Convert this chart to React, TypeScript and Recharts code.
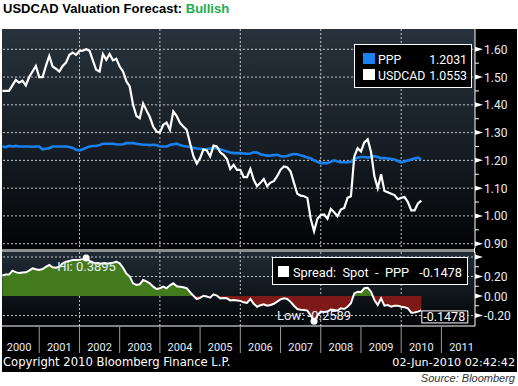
import React from 'react';
import {
  LineChart,
  Line,
  AreaChart,
  Area,
  XAxis,
  YAxis,
  CartesianGrid,
  Legend,
  ReferenceDot,
} from 'recharts';

// ---------------- data ----------------
const START_YEAR = 2000;
const FIRST_MONTH_OFFSET = 1; // first point: Feb 2000

const usdcad = [
  1.45, 1.45, 1.45, 1.47, 1.49, 1.48, 1.487, 1.47, 1.5, 1.52, 1.54, 1.5,
  1.5, 1.54, 1.576, 1.538, 1.53, 1.52, 1.54, 1.552, 1.58, 1.588, 1.58, 1.594,
  1.595, 1.6, 1.595, 1.56, 1.526, 1.52, 1.583, 1.562, 1.583, 1.56, 1.566, 1.538,
  1.52, 1.485, 1.466, 1.4, 1.36, 1.352, 1.405, 1.38, 1.356, 1.322, 1.304, 1.3,
  1.328, 1.336, 1.31, 1.376, 1.36, 1.335, 1.322, 1.31, 1.262, 1.215, 1.188, 1.208,
  1.24, 1.236, 1.214, 1.253, 1.25, 1.229, 1.22, 1.205, 1.169, 1.184, 1.166, 1.166,
  1.14, 1.14, 1.169, 1.13, 1.107, 1.119, 1.133, 1.107, 1.12, 1.125, 1.143, 1.166,
  1.178, 1.175, 1.16, 1.119, 1.08, 1.073, 1.071, 1.065, 0.99, 0.945, 0.99, 1.003,
  1.005, 0.99, 1.025, 1.013, 0.999, 1.023, 1.029, 1.065, 1.071, 1.214, 1.244, 1.232,
  1.265, 1.276, 1.23, 1.143, 1.1, 1.15, 1.09, 1.085, 1.08, 1.075, 1.06, 1.065,
  1.068, 1.05, 1.02, 1.02, 1.045, 1.0553,
];

const ppp = [
  1.25, 1.248, 1.252, 1.25, 1.252, 1.25, 1.25, 1.25, 1.25, 1.249, 1.25, 1.25,
  1.24, 1.242, 1.244, 1.25, 1.25, 1.25, 1.25, 1.25, 1.248, 1.245, 1.238, 1.236,
  1.24, 1.245, 1.25, 1.252, 1.252, 1.255, 1.26, 1.26, 1.26, 1.26, 1.258, 1.257,
  1.258, 1.262, 1.262, 1.262, 1.26, 1.258, 1.256, 1.256, 1.255, 1.256, 1.255, 1.25,
  1.25, 1.25, 1.255, 1.258, 1.26, 1.255, 1.252, 1.25, 1.248, 1.245, 1.243, 1.242,
  1.24, 1.241, 1.243, 1.245, 1.244, 1.24, 1.236, 1.232, 1.228, 1.226, 1.226, 1.226,
  1.225, 1.224, 1.225, 1.229, 1.228, 1.222, 1.219, 1.217, 1.217, 1.219, 1.22, 1.216,
  1.214, 1.216, 1.22, 1.223, 1.222, 1.218, 1.215, 1.21, 1.207, 1.2, 1.195, 1.19,
  1.19, 1.19, 1.195, 1.2, 1.196, 1.193, 1.193, 1.193, 1.195, 1.205, 1.21, 1.212,
  1.212, 1.21, 1.212, 1.215, 1.212, 1.208, 1.208, 1.207, 1.205, 1.203, 1.198, 1.193,
  1.196, 1.2, 1.203, 1.207, 1.21, 1.2031,
];

const spread = [
  0.21, 0.22, 0.22, 0.26, 0.245, 0.235, 0.24, 0.243, 0.26, 0.284, 0.275, 0.267,
  0.277, 0.3, 0.318, 0.295, 0.29, 0.3, 0.335, 0.352, 0.36, 0.369, 0.369, 0.372,
  0.378, 0.3895, 0.36, 0.345, 0.335, 0.33, 0.335, 0.33, 0.335, 0.34, 0.352, 0.335,
  0.29, 0.23, 0.2, 0.13, 0.113, 0.12, 0.164, 0.15, 0.13, 0.096, 0.072, 0.08,
  0.096, 0.08, 0.11, 0.13, 0.1, 0.096, 0.09, 0.08, 0.04, 0.003, -0.031, -0.02,
  0.003, -0.005, -0.017, 0.017, 0.005, -0.024, -0.02, -0.024, -0.045, -0.041, -0.045, -0.05,
  -0.065, -0.07, -0.03, -0.08, -0.11, -0.095, -0.085, -0.1, -0.092, -0.08, -0.058, -0.035,
  -0.024, -0.03, -0.06, -0.1, -0.133, -0.14, -0.144, -0.15, -0.2, -0.2589, -0.2, -0.16,
  -0.165, -0.16, -0.14, -0.144, -0.15, -0.126, -0.133, -0.11, -0.075, 0.027, 0.044, 0.04,
  0.079, 0.085, 0.044, -0.041, -0.092, -0.024, -0.099, -0.092, -0.11, -0.1, -0.099, -0.11,
  -0.115, -0.126, -0.171, -0.17, -0.16, -0.1478,
];

const seriesNames = ['PPP', 'USDCAD'];
const spreadName = 'Spread:  Spot  -  PPP';
const yearTicks = [2000, 2001, 2002, 2003, 2004, 2005, 2006, 2007, 2008, 2009, 2010, 2011];
const gridYears = [2002, 2004, 2006, 2008, 2010];
const topLabeledTicks = [0.9, 1.0, 1.1, 1.2, 1.3, 1.4, 1.5, 1.6];
const topMinorTicks = [0.95, 1.05, 1.15, 1.25, 1.35, 1.45, 1.55];
const botLabeledTicks = [-0.2, 0, 0.2];
const botMarkTicks = [0.4];
const botMinorTicks = [-0.1, 0.1, 0.3];
const botGridValues = [-0.2, 0.2, 0.4];

const titleMain = 'USDCAD Valuation Forecast: ';
const titleView = 'Bullish';
const copyrightText = 'Copyright 2010 Bloomberg Finance L.P.';
const stampText = '02-Jun-2010 02:42:42';
const sourceText = 'Source: Bloomberg';

// ---------------- layout / style ----------------
const X_DOMAIN: [number, number] = [2000, 2011.835];
const TOP_DOMAIN: [number, number] = [0.8845, 1.673];
const BOT_DOMAIN: [number, number] = [-0.3077, 0.4513];
const BOT_PLOT_H = 74;

const WHITE = '#ffffff';
const BLUE = '#1a80f0';
const GREEN = '#437a1d';
const RED = '#7d1a18';
const GRID = '#c4c4c4';
const TICK_TEXT = '#e6eef8';
const FONT = "Roboto, 'DejaVu Sans', sans-serif";
const FOOT_FONT = "'DejaVu Sans', sans-serif";

const data = usdcad.map((u, i) => ({
  t: START_YEAR + (FIRST_MONTH_OFFSET + i) / 12,
  usdcad: u,
  ppp: ppp[i],
  spread: spread[i],
}));

const last = data[data.length - 1];
let hiIdx = 0;
let loIdx = 0;
spread.forEach((v, i) => {
  if (v > spread[hiIdx]) hiIdx = i;
  if (v < spread[loIdx]) loIdx = i;
});
const hiPoint = data[hiIdx];
const loPoint = data[loIdx];

const near = (arr: number[], v: number) => arr.some((a) => Math.abs(a - v) < 1e-9);

const makeRightTick = (labeled: number[], marked: number[]) => (props: any) => {
  const { x, y, payload } = props;
  const v = payload.value as number;
  const isLab = near(labeled, v);
  const isMark = isLab || near(marked, v);
  if (!isMark) {
    return <line x1={x} x2={x + 4} y1={y} y2={y} stroke={WHITE} strokeWidth={1} />;
  }
  return (
    <g>
      <polygon points={`${x},${y - 2.5} ${x + 8},${y} ${x},${y + 2.5}`} fill={WHITE} />
      {isLab && (
        <text x={x + 9} y={y + 4.5} fill={TICK_TEXT} fontSize={12} fontFamily={FONT}>
          {v.toFixed(2)}
        </text>
      )}
    </g>
  );
};

const YearTick = (props: any) => {
  const { x, y, payload } = props;
  return (
    <g>
      <line x1={x} x2={x} y1={y + 1} y2={y + 27} stroke="#9a9a9a" strokeWidth={1} />
      <text x={x + 20.1} y={y + 25} textAnchor="middle" fill={TICK_TEXT} fontSize={11} fontFamily={FONT}>
        {payload.value}
      </text>
    </g>
  );
};

const TopLegend = () => (
  <svg width={118} height={44} style={{ display: 'block' }}>
    <rect x={0.5} y={0.5} width={117} height={43} fill="#000" stroke={WHITE} strokeWidth={1} />
    <rect x={9} y={9} width={12} height={11} fill={BLUE} />
    <text x={24} y={20} fill={WHITE} fontSize={12.3} fontFamily={FONT}>{seriesNames[0]}</text>
    <text x={113} y={20} fill={WHITE} fontSize={12.3} fontFamily={FONT} textAnchor="end">
      {last.ppp.toFixed(4)}
    </text>
    <rect x={9} y={25} width={12} height={11} fill={WHITE} />
    <text x={24} y={36} fill={WHITE} fontSize={12.3} fontFamily={FONT}>{seriesNames[1]}</text>
    <text x={113} y={36} fill={WHITE} fontSize={12.3} fontFamily={FONT} textAnchor="end">
      {last.usdcad.toFixed(4)}
    </text>
  </svg>
);

const BottomLegend = () => (
  <svg width={196} height={28} style={{ display: 'block' }}>
    <rect x={0.5} y={0.5} width={195} height={27} fill="#000" stroke={WHITE} strokeWidth={1} />
    <rect x={6} y={9} width={11} height={11} fill={WHITE} />
    <text x={21} y={19.5} fill={WHITE} fontSize={12.8} fontFamily={FONT} style={{ whiteSpace: 'pre' }}>
      {spreadName}
    </text>
    <text x={190} y={19.5} fill={WHITE} fontSize={12.8} fontFamily={FONT} textAnchor="end">
      {last.spread.toFixed(4)}
    </text>
  </svg>
);

const HiShape = (props: any) => {
  const { cx, cy } = props;
  return (
    <g>
      <circle cx={cx} cy={cy} r={3.5} fill={WHITE} />
      <text x={cx - 29} y={cy + 13} fill={TICK_TEXT} fontSize={13} fontFamily={FONT}>
        {`Hi: ${hiPoint.spread.toFixed(4)}`}
      </text>
    </g>
  );
};

const LowShape = (props: any) => {
  const { cx, cy } = props;
  return (
    <g>
      <text x={cx - 37} y={cy - 1} fill={TICK_TEXT} fontSize={13} fontFamily={FONT}>
        {`Low: ${loPoint.spread.toFixed(4)}`}
      </text>
      <circle cx={cx} cy={cy} r={3.5} fill={WHITE} />
    </g>
  );
};

const FlagShape = (props: any) => {
  const { cx, cy } = props;
  return (
    <g>
      <rect x={cx + 0.5} y={cy + 0.5} width={46} height={12} fill="#000" stroke={WHITE} strokeWidth={1} />
      <text x={cx + 2} y={cy + 11} fill={WHITE} fontSize={12.5} fontFamily={FONT}>
        {last.spread.toFixed(4)}
      </text>
    </g>
  );
};

const zeroOffset = BOT_DOMAIN[1] / (BOT_DOMAIN[1] - BOT_DOMAIN[0]);

export default function App() {
  const abs = (s: React.CSSProperties): React.CSSProperties => ({ position: 'absolute', ...s });
  return (
    <div style={abs({ left: 0, top: 0, width: 518, height: 386, background: '#fff', overflow: 'hidden' })}>
      {/* frame & panel backgrounds */}
      <div style={abs({ left: 2, top: 29, width: 515, height: 343, background: '#000' })} />
      <div
        style={abs({
          left: 2,
          top: 29,
          width: 473,
          height: 220,
          background: 'linear-gradient(to bottom, #27323c 0%, #161d24 55%, #020304 100%)',
        })}
      />
      <div style={abs({ left: 2, top: 249, width: 473, height: 3, background: '#8e8e8e' })} />
      <div
        style={abs({
          left: 2,
          top: 252,
          width: 473,
          height: 74,
          background: 'linear-gradient(to bottom, #202b35 0%, #10161c 55%, #030506 100%)',
        })}
      />
      <div style={abs({ left: 474, top: 248, width: 1, height: 5, background: '#fff' })} />

      {/* top panel */}
      <div style={abs({ left: -1, top: 29 })}>
        <LineChart width={519} height={227} data={data} margin={{ top: 0, right: 0, bottom: 8, left: 0 }}>
          <CartesianGrid
            stroke={GRID}
            strokeDasharray="2 2"
            horizontalValues={topLabeledTicks}
            verticalValues={gridYears}
          />
          <XAxis dataKey="t" type="number" domain={X_DOMAIN} hide allowDataOverflow />
          <YAxis
            orientation="right"
            width={43}
            type="number"
            domain={TOP_DOMAIN}
            allowDataOverflow
            ticks={[...topLabeledTicks, ...topMinorTicks].sort((a, b) => a - b)}
            interval={0}
            tickSize={0}
            tickMargin={0}
            tickLine={false}
            axisLine={{ stroke: WHITE, strokeWidth: 1 }}
            tick={makeRightTick(topLabeledTicks, [])}
          />
          <Line
            type="linear"
            dataKey="ppp"
            stroke={BLUE}
            strokeWidth={2.6}
            dot={false}
            isAnimationActive={false}
          />
          <Line
            type="linear"
            dataKey="usdcad"
            stroke={WHITE}
            strokeWidth={2.2}
            dot={false}
            isAnimationActive={false}
          />
          <Legend
            layout="horizontal"
            verticalAlign="middle"
            align="center"
            wrapperStyle={{ position: 'absolute', left: 355, top: 15, width: 118, height: 44 }}
            content={() => <TopLegend />}
          />
        </LineChart>
      </div>

      {/* bottom panel */}
      <div style={abs({ left: -1, top: 252 })}>
        <AreaChart width={519} height={101} data={data} margin={{ top: 0, right: 0, bottom: 0, left: 0 }}>
          <defs>
            <linearGradient id="spreadSplit" x1="0" y1="0" x2="0" y2={BOT_PLOT_H} gradientUnits="userSpaceOnUse">
              <stop offset={zeroOffset} stopColor={GREEN} />
              <stop offset={zeroOffset} stopColor={RED} />
            </linearGradient>
          </defs>
          <CartesianGrid
            stroke={GRID}
            strokeDasharray="2 2"
            horizontalValues={botGridValues}
            verticalValues={gridYears}
          />
          <XAxis
            dataKey="t"
            type="number"
            domain={X_DOMAIN}
            allowDataOverflow
            ticks={yearTicks}
            interval={0}
            height={27}
            tickSize={0}
            tickMargin={0}
            tickLine={false}
            axisLine={{ stroke: WHITE, strokeWidth: 1 }}
            tick={<YearTick />}
          />
          <YAxis
            orientation="right"
            width={43}
            type="number"
            domain={BOT_DOMAIN}
            allowDataOverflow
            ticks={[...botLabeledTicks, ...botMarkTicks, ...botMinorTicks].sort((a, b) => a - b)}
            interval={0}
            tickSize={0}
            tickMargin={0}
            tickLine={false}
            axisLine={{ stroke: WHITE, strokeWidth: 1 }}
            tick={makeRightTick(botLabeledTicks, botMarkTicks)}
          />
          <Area
            type="linear"
            dataKey="spread"
            baseValue={0}
            stroke={WHITE}
            strokeWidth={2}
            fill="url(#spreadSplit)"
            fillOpacity={1}
            isAnimationActive={false}
          />
          <ReferenceDot x={hiPoint.t} y={hiPoint.spread} r={3.5} shape={HiShape} />
          <ReferenceDot x={loPoint.t} y={loPoint.spread} r={3.5} shape={LowShape} />
          <ReferenceDot x={last.t} y={last.spread} r={1} shape={FlagShape} />
          <Legend
            layout="horizontal"
            verticalAlign="middle"
            align="center"
            wrapperStyle={{ position: 'absolute', left: 273, top: 5, width: 196, height: 28 }}
            content={() => <BottomLegend />}
          />
        </AreaChart>
      </div>

      {/* left white strip */}
      <div style={abs({ left: 0, top: 20, width: 2, height: 366, background: '#fff' })} />

      {/* text overlay */}
      <svg width={518} height={386} style={abs({ left: 0, top: 0, pointerEvents: 'none' })}>
        <text x={3} y={13} fontSize={13} fontWeight="bold" fontFamily="'Liberation Sans', Arial, sans-serif" fill="#000">
          {titleMain}
          <tspan fill="#21ad4b">{titleView}</tspan>
        </text>
        <text x={3} y={366} fontSize={11.6} fontFamily={FOOT_FONT} fill={WHITE}>
          {copyrightText}
        </text>
        <text x={515} y={366} fontSize={11.2} fontFamily={FOOT_FONT} fill={WHITE} textAnchor="end">
          {stampText}
        </text>
        <text
          x={515}
          y={382}
          fontSize={11}
          fontStyle="italic"
          fontFamily="'Liberation Sans', Arial, sans-serif"
          fill="#333"
          textAnchor="end"
        >
          {sourceText}
        </text>
      </svg>
    </div>
  );
}
